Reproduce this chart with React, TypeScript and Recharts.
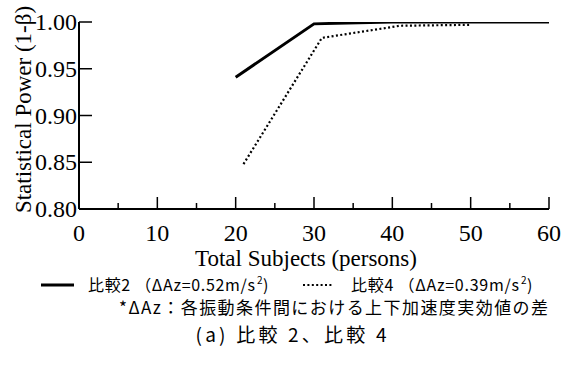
import React from 'react';
import { LineChart, Line, XAxis, YAxis, Legend, Label } from 'recharts';

// ---- data ----
const xTicks = [0, 5, 10, 15, 20, 25, 30, 35, 40, 45, 50, 55, 60];
const yTicks = [0.8, 0.85, 0.9, 0.95, 1.0];

const subjectsCmp2 = [20, 30, 40, 50, 60];
const powerCmp2 = [0.941, 0.998, 1.0, 1.0, 1.0];

const subjectsCmp4 = [21, 31, 41, 50];
const powerCmp4 = [0.848, 0.983, 0.996, 0.997];

const seriesNames = ['比較2', '比較4'];
const seriesDeltas = ['0.52', '0.39'];

const xLabel = 'Total Subjects (persons)';
const yLabel = 'Statistical Power (1-β)';
const noteText = '*ΔAz：各振動条件間における上下加速度実効値の差';
const captionText = '(a) 比較 2、比較 4';

const cmp2Data = subjectsCmp2.map((x, i) => ({ x, y: powerCmp2[i] }));
const cmp4Data = subjectsCmp4.map((x, i) => ({ x, y: powerCmp4[i] }));

// ---- styles ----
const SERIF = '"Liberation Serif", "Times New Roman", serif';
const JP = '"Noto Sans CJK JP", "Noto Sans", sans-serif';
const lineStyles = [
  { stroke: '#000', strokeWidth: 3, dash: undefined as string | undefined },
  { stroke: '#000', strokeWidth: 2.2, dash: '2 2.4' },
];

const XTick = (props: any) => {
  const { x, y, payload } = props;
  const major = payload.value % 10 === 0;
  return (
    <g>
      <line x1={x} x2={x} y1={y} y2={y - (major ? 12 : 6)} stroke="#000" strokeWidth={1.5} />
      {major && (
        <text x={x} y={y + 32} textAnchor="middle" fontFamily={SERIF} fontSize={24} fill="#000">
          {payload.value}
        </text>
      )}
    </g>
  );
};

const YTick = (props: any) => {
  const { x, y, payload } = props;
  return (
    <g>
      <line x1={x} x2={x + 13} y1={y} y2={y} stroke="#000" strokeWidth={1.5} />
      <text x={x - 2} y={y} dy="0.34em" textAnchor="end" fontFamily={SERIF} fontSize={24} fill="#000">
        {Number(payload.value).toFixed(2)}
      </text>
    </g>
  );
};

const renderLegend = (props: any) => {
  const payload = props.payload || [];
  const rowY = 15;
  const sampleX = [41, 303];
  const textX = [88, 351];
  const mainW = [167, 168];
  return (
    <svg width={563} height={103} style={{ display: 'block' }}>
      {payload.map((entry: any, i: number) => {
        const st = lineStyles[i] || lineStyles[0];
        const x0 = textX[i];
        return (
          <g key={i}>
            <line
              x1={sampleX[i]}
              x2={sampleX[i] + (st.dash ? 30 : 33)}
              y1={rowY}
              y2={rowY}
              stroke={st.stroke}
              strokeWidth={st.strokeWidth}
              strokeDasharray={st.dash}
            />
            <text
              x={x0}
              y={rowY}
              dy="0.36em"
              fontFamily={JP}
              fontSize={16}
              fill="#000"
              textLength={mainW[i]}
              lengthAdjust="spacing"
            >
              {`${seriesNames[i]} （ΔAz=${seriesDeltas[i]}m/s`}
            </text>
            <text x={x0 + mainW[i] + 2} y={rowY - 1} fontFamily={JP} fontSize={10} fill="#000">
              2
            </text>
            <text x={x0 + mainW[i] + 8} y={rowY} dy="0.36em" fontFamily={JP} fontSize={16} fill="#000">
              )
            </text>
          </g>
        );
      })}
      <text x={119} y={38} dy="0.36em" fontFamily={JP} fontSize={17} fill="#000" textLength={429} lengthAdjust="spacing">
        {noteText}
      </text>
      <text x={291} y={65} dy="0.36em" textAnchor="middle" fontFamily={JP} fontSize={19} fill="#000" textLength={191} lengthAdjust="spacing">
        {captionText}
      </text>
    </svg>
  );
};

export default function App() {
  return (
    <div style={{ position: 'absolute', left: 0, top: 0, width: 563, height: 373, background: '#fff' }}>
      <LineChart width={563} height={373} margin={{ top: 22, right: 14, bottom: 134, left: 19 }}>
        <XAxis
          xAxisId="b"
          dataKey="x"
          type="number"
          domain={[0, 60]}
          ticks={xTicks}
          tick={<XTick />}
          tickLine={false}
          tickSize={0}
          tickMargin={0}
          height={30}
          axisLine={{ stroke: '#000', strokeWidth: 2 }}
          interval={0}
          allowDataOverflow
        >
          <Label
            content={(p: any) => {
              const vb = p.viewBox || { x: 79, y: 209, width: 470 };
              return (
                <text x={vb.x + vb.width / 2 - 8} y={vb.y + 57} textAnchor="middle" fontFamily={SERIF} fontSize={23} fill="#000">
                  {xLabel}
                </text>
              );
            }}
          />
        </XAxis>
        <XAxis
          xAxisId="t"
          orientation="top"
          type="number"
          domain={[0, 60]}
          height={0}
          tick={false}
          tickLine={false}
          axisLine={{ stroke: '#000', strokeWidth: 2 }}
        />
        <YAxis
          yAxisId="l"
          type="number"
          domain={[0.8, 1.0]}
          ticks={yTicks}
          tick={<YTick />}
          tickLine={false}
          tickSize={0}
          tickMargin={0}
          width={60}
          axisLine={{ stroke: '#000', strokeWidth: 2 }}
          interval={0}
          allowDataOverflow
        >
          <Label
            content={(p: any) => {
              const vb = p.viewBox || { x: 19, y: 22, width: 60, height: 187 };
              const cx = vb.x + 4;
              const cy = vb.y + vb.height / 2 - 6;
              return (
                <text
                  x={cx}
                  y={cy}
                  dy="0.33em"
                  textAnchor="middle"
                  transform={`rotate(-90, ${cx}, ${cy})`}
                  fontFamily={SERIF}
                  fontSize={23}
                  fill="#000"
                >
                  {yLabel}
                </text>
              );
            }}
          />
        </YAxis>
        <YAxis
          yAxisId="r"
          orientation="right"
          type="number"
          domain={[0.8, 1.0]}
          width={0}
          tick={false}
          tickLine={false}
          axisLine={{ stroke: '#000', strokeWidth: 2 }}
        />
        <Line
          xAxisId="b"
          yAxisId="l"
          data={cmp2Data}
          dataKey="y"
          name={seriesNames[0]}
          stroke={lineStyles[0].stroke}
          strokeWidth={lineStyles[0].strokeWidth}
          dot={false}
          activeDot={false}
          isAnimationActive={false}
        />
        <Line
          xAxisId="b"
          yAxisId="l"
          data={cmp4Data}
          dataKey="y"
          name={seriesNames[1]}
          stroke={lineStyles[1].stroke}
          strokeWidth={lineStyles[1].strokeWidth}
          strokeDasharray={lineStyles[1].dash}
          dot={false}
          activeDot={false}
          isAnimationActive={false}
        />
        <Legend
          layout="horizontal"
          verticalAlign="middle"
          align="center"
          content={renderLegend}
          wrapperStyle={{ left: 0, top: 270, width: 563, height: 103 }}
        />
      </LineChart>
    </div>
  );
}
